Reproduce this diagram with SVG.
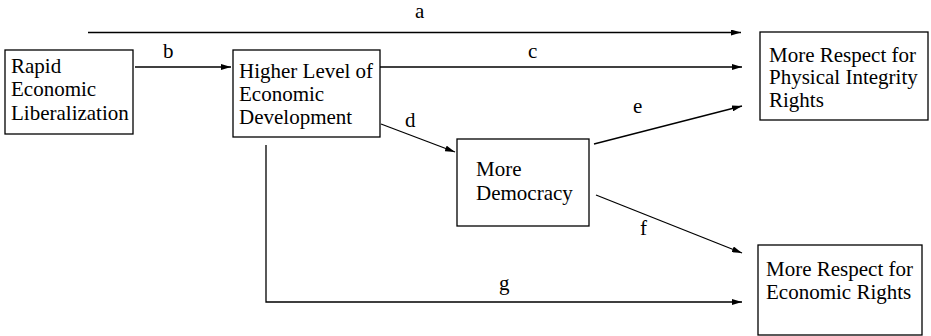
<svg xmlns="http://www.w3.org/2000/svg" width="931" height="336" viewBox="0 0 931 336">
<style>
.box{fill:#fff;stroke:#000;stroke-width:1.3}
.t{font-family:"Liberation Serif","Times New Roman",serif;font-size:21px;fill:#000}
.ln{fill:none;stroke:#000;stroke-width:1.3}
</style>
<defs>
<marker id="ah" viewBox="0 0 10 6" refX="10" refY="3" markerWidth="10" markerHeight="6" markerUnits="userSpaceOnUse" orient="auto">
<path d="M0,0 L10,3 L0,6 Z" fill="#000"/>
</marker>
</defs>
<rect width="931" height="336" fill="#fff"/>
<g id="connectors">
<line class="ln" x1="88" y1="32.5" x2="741" y2="32.5" marker-end="url(#ah)"/>
<line class="ln" x1="135" y1="67" x2="231" y2="67" marker-end="url(#ah)"/>
<line class="ln" x1="380" y1="67" x2="742" y2="67" marker-end="url(#ah)"/>
<line class="ln" x1="381" y1="124" x2="455" y2="152" marker-end="url(#ah)"/>
<line class="ln" x1="594" y1="144" x2="742" y2="106" marker-end="url(#ah)"/>
<line class="ln" x1="596" y1="195" x2="742" y2="253" marker-end="url(#ah)"/>
<polyline class="ln" points="266,145 266,302 742,302" marker-end="url(#ah)"/>
<text class="t" x="415" y="18">a</text>
<text class="t" x="163" y="58">b</text>
<text class="t" x="528" y="58">c</text>
<text class="t" x="405" y="127">d</text>
<text class="t" x="633" y="113">e</text>
<text class="t" x="640" y="235">f</text>
<text class="t" x="499" y="290">g</text>
</g>
<g id="rapid">
<rect class="box" x="5" y="50" width="128" height="84"/>
<text class="t" x="11" y="73">Rapid</text>
<text class="t" x="11" y="96">Economic</text>
<text class="t" x="11" y="120">Liberalization</text>
</g>
<g id="higher">
<rect class="box" x="233" y="50" width="147" height="87"/>
<text class="t" x="239" y="78">Higher Level of</text>
<text class="t" x="239" y="101">Economic</text>
<text class="t" x="239" y="124">Development</text>
</g>
<g id="democracy">
<rect class="box" x="457" y="139" width="132" height="87"/>
<text class="t" x="476" y="176">More</text>
<text class="t" x="476" y="200">Democracy</text>
</g>
<g id="physical">
<rect class="box" x="760" y="32" width="168" height="88"/>
<text class="t" x="769" y="62">More Respect for</text>
<text class="t" x="769" y="84">Physical Integrity</text>
<text class="t" x="769" y="107">Rights</text>
</g>
<g id="economic">
<rect class="box" x="758" y="245" width="164" height="90"/>
<text class="t" x="766" y="276">More Respect for</text>
<text class="t" x="766" y="299">Economic Rights</text>
</g>
</svg>
